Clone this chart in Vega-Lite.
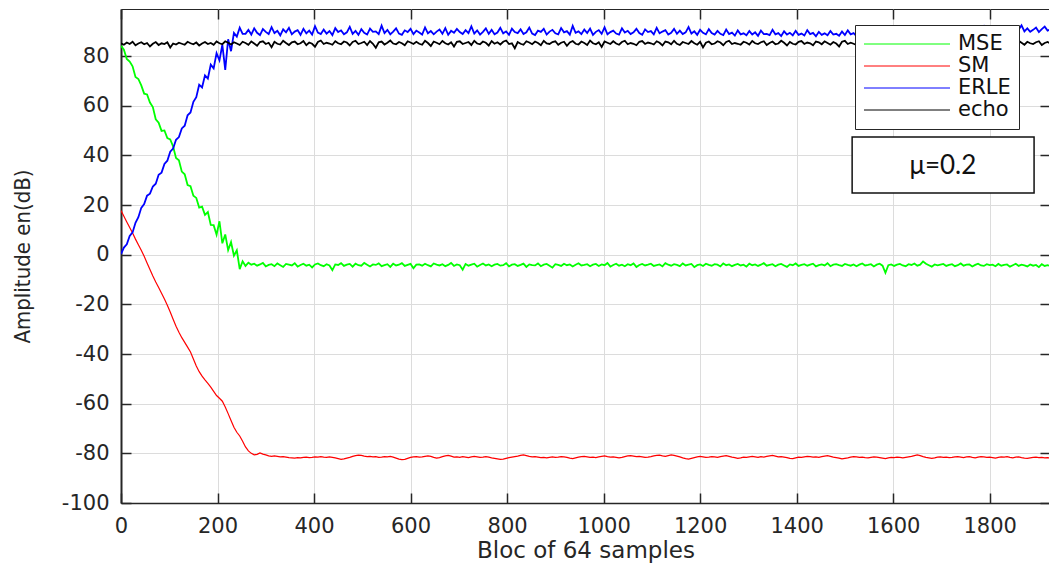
{
"$schema": "https://vega.github.io/schema/vega-lite/v6.json",
"width": 929, "height": 494,
"autosize": {"type": "none"},
"padding": {"left": 121, "top": 9, "right": 0, "bottom": 61},
"background": "white",
"config": {"view": {"stroke": "#262626", "strokeWidth": 1}, "font": "DejaVu Sans"},
"datasets": {"d": [
{"x":0,"MSE":84.2,"SM":17.8,"ERLE":0.3,"echo":85.2},
{"x":6,"MSE":82.6,"SM":15.5,"ERLE":2.9,"echo":84.6},
{"x":12,"MSE":78.9,"SM":13.2,"ERLE":4.2,"echo":85.5},
{"x":18,"MSE":77.8,"SM":11.0,"ERLE":7.6,"echo":84.9},
{"x":24,"MSE":75.9,"SM":8.8,"ERLE":9.0,"echo":85.8},
{"x":30,"MSE":71.6,"SM":6.3,"ERLE":12.9,"echo":84.4},
{"x":36,"MSE":70.8,"SM":4.0,"ERLE":15.1,"echo":85.1},
{"x":42,"MSE":68.2,"SM":1.8,"ERLE":18.9,"echo":85.6},
{"x":48,"MSE":64.9,"SM":-0.6,"ERLE":20.4,"echo":84.8},
{"x":54,"MSE":64.6,"SM":-3.3,"ERLE":23.8,"echo":85.3},
{"x":60,"MSE":61.3,"SM":-5.9,"ERLE":24.6,"echo":83.9},
{"x":66,"MSE":59.5,"SM":-8.6,"ERLE":27.5,"echo":85.0},
{"x":72,"MSE":54.6,"SM":-11.0,"ERLE":28.6,"echo":85.7},
{"x":78,"MSE":53.2,"SM":-13.2,"ERLE":32.2,"echo":84.5},
{"x":84,"MSE":49.9,"SM":-15.5,"ERLE":33.1,"echo":85.2},
{"x":90,"MSE":50.1,"SM":-17.8,"ERLE":36.6,"echo":84.9},
{"x":96,"MSE":47.0,"SM":-20.3,"ERLE":37.9,"echo":85.6},
{"x":102,"MSE":46.5,"SM":-23.1,"ERLE":41.5,"echo":83.5},
{"x":108,"MSE":43.6,"SM":-26.0,"ERLE":42.8,"echo":85.1},
{"x":114,"MSE":39.0,"SM":-28.8,"ERLE":46.3,"echo":84.7},
{"x":120,"MSE":38.1,"SM":-31.2,"ERLE":47.4,"echo":85.4},
{"x":126,"MSE":33.5,"SM":-33.4,"ERLE":50.9,"echo":85.0},
{"x":132,"MSE":32.4,"SM":-35.3,"ERLE":52.0,"echo":84.6},
{"x":138,"MSE":28.1,"SM":-37.2,"ERLE":56.2,"echo":85.8},
{"x":144,"MSE":27.6,"SM":-39.2,"ERLE":57.3,"echo":85.2},
{"x":150,"MSE":23.8,"SM":-42.0,"ERLE":61.6,"echo":84.8},
{"x":156,"MSE":22.9,"SM":-44.8,"ERLE":63.5,"echo":85.5},
{"x":162,"MSE":19.0,"SM":-47.1,"ERLE":68.5,"echo":84.3},
{"x":168,"MSE":19.4,"SM":-48.9,"ERLE":67.4,"echo":85.1},
{"x":174,"MSE":16.1,"SM":-50.4,"ERLE":72.3,"echo":85.7},
{"x":180,"MSE":17.2,"SM":-51.8,"ERLE":71.0,"echo":84.9},
{"x":186,"MSE":12.0,"SM":-53.3,"ERLE":76.6,"echo":85.3},
{"x":192,"MSE":11.9,"SM":-55.0,"ERLE":75.1,"echo":84.6},
{"x":198,"MSE":8.1,"SM":-56.7,"ERLE":81.2,"echo":85.9},
{"x":204,"MSE":13.5,"SM":-57.8,"ERLE":78.3,"echo":85.2},
{"x":210,"MSE":4.6,"SM":-59.0,"ERLE":84.6,"echo":84.8},
{"x":216,"MSE":8.2,"SM":-61.3,"ERLE":74.5,"echo":86.0},
{"x":222,"MSE":1.9,"SM":-64.0,"ERLE":86.8,"echo":85.4},
{"x":228,"MSE":5.1,"SM":-66.8,"ERLE":82.0,"echo":84.7},
{"x":234,"MSE":-0.4,"SM":-69.5,"ERLE":89.4,"echo":85.6},
{"x":240,"MSE":1.8,"SM":-71.5,"ERLE":87.9,"echo":85.1},
{"x":246,"MSE":-5.8,"SM":-73.0,"ERLE":91.5,"echo":84.5},
{"x":252,"MSE":-2.6,"SM":-75.1,"ERLE":89.0,"echo":85.8},
{"x":258,"MSE":-4.5,"SM":-77.4,"ERLE":89.0,"echo":85.3},
{"x":264,"MSE":-3.2,"SM":-79.0,"ERLE":90.6,"echo":84.6},
{"x":270,"MSE":-4.0,"SM":-80.0,"ERLE":88.7,"echo":85.9},
{"x":276,"MSE":-3.6,"SM":-80.6,"ERLE":91.2,"echo":85.1},
{"x":282,"MSE":-4.4,"SM":-80.4,"ERLE":89.4,"echo":84.2},
{"x":288,"MSE":-3.9,"SM":-79.8,"ERLE":88.5,"echo":85.7},
{"x":294,"MSE":-3.3,"SM":-80.3,"ERLE":90.9,"echo":86.0},
{"x":300,"MSE":-4.7,"SM":-80.6,"ERLE":89.8,"echo":84.9},
{"x":306,"MSE":-4.1,"SM":-81.0,"ERLE":88.9,"echo":85.4},
{"x":312,"MSE":-3.8,"SM":-81.2,"ERLE":91.7,"echo":83.6},
{"x":318,"MSE":-4.6,"SM":-81.0,"ERLE":89.3,"echo":85.8},
{"x":324,"MSE":-3.5,"SM":-81.2,"ERLE":90.2,"echo":85.0},
{"x":330,"MSE":-4.2,"SM":-81.4,"ERLE":88.4,"echo":84.7},
{"x":336,"MSE":-4.9,"SM":-81.3,"ERLE":90.8,"echo":86.2},
{"x":342,"MSE":-3.7,"SM":-81.5,"ERLE":89.6,"echo":85.3},
{"x":348,"MSE":-4.0,"SM":-81.7,"ERLE":91.4,"echo":84.5},
{"x":354,"MSE":-4.3,"SM":-81.8,"ERLE":88.8,"echo":85.6},
{"x":360,"MSE":-3.4,"SM":-81.9,"ERLE":89.9,"echo":85.9},
{"x":366,"MSE":-4.8,"SM":-81.7,"ERLE":90.5,"echo":84.8},
{"x":372,"MSE":-4.1,"SM":-81.8,"ERLE":88.6,"echo":85.2},
{"x":378,"MSE":-3.6,"SM":-81.6,"ERLE":91.0,"echo":86.1},
{"x":384,"MSE":-4.4,"SM":-81.5,"ERLE":89.2,"echo":84.4},
{"x":390,"MSE":-4.0,"SM":-81.7,"ERLE":90.3,"echo":85.5},
{"x":396,"MSE":-5.1,"SM":-81.6,"ERLE":88.7,"echo":85.0},
{"x":402,"MSE":-3.9,"SM":-81.4,"ERLE":92.1,"echo":83.8},
{"x":408,"MSE":-3.5,"SM":-81.5,"ERLE":89.5,"echo":85.7},
{"x":414,"MSE":-4.2,"SM":-81.3,"ERLE":88.9,"echo":86.3},
{"x":420,"MSE":-4.6,"SM":-81.5,"ERLE":90.7,"echo":84.9},
{"x":426,"MSE":-3.8,"SM":-81.6,"ERLE":89.1,"echo":85.4},
{"x":432,"MSE":-4.3,"SM":-81.4,"ERLE":90.1,"echo":85.1},
{"x":438,"MSE":-6.2,"SM":-81.6,"ERLE":88.5,"echo":84.6},
{"x":444,"MSE":-3.9,"SM":-81.8,"ERLE":91.3,"echo":86.0},
{"x":450,"MSE":-4.1,"SM":-82.1,"ERLE":89.7,"echo":85.2},
{"x":456,"MSE":-3.4,"SM":-82.4,"ERLE":90.4,"echo":84.8},
{"x":462,"MSE":-4.5,"SM":-82.2,"ERLE":88.8,"echo":85.9},
{"x":468,"MSE":-4.0,"SM":-81.9,"ERLE":89.6,"echo":85.5},
{"x":474,"MSE":-3.7,"SM":-81.6,"ERLE":91.8,"echo":84.3},
{"x":480,"MSE":-4.8,"SM":-81.2,"ERLE":89.0,"echo":85.7},
{"x":486,"MSE":-3.6,"SM":-80.9,"ERLE":90.2,"echo":86.2},
{"x":492,"MSE":-4.2,"SM":-80.7,"ERLE":88.6,"echo":84.9},
{"x":498,"MSE":-4.4,"SM":-80.8,"ERLE":90.9,"echo":85.3},
{"x":504,"MSE":-3.3,"SM":-81.1,"ERLE":89.4,"echo":85.8},
{"x":510,"MSE":-4.0,"SM":-81.3,"ERLE":88.7,"echo":84.5},
{"x":516,"MSE":-4.7,"SM":-81.2,"ERLE":91.1,"echo":86.1},
{"x":522,"MSE":-3.9,"SM":-81.4,"ERLE":89.8,"echo":85.0},
{"x":528,"MSE":-4.1,"SM":-81.3,"ERLE":90.0,"echo":83.4},
{"x":534,"MSE":-3.5,"SM":-81.6,"ERLE":88.9,"echo":85.6},
{"x":540,"MSE":-4.6,"SM":-81.5,"ERLE":92.3,"echo":85.9},
{"x":546,"MSE":-4.2,"SM":-81.3,"ERLE":89.3,"echo":84.7},
{"x":552,"MSE":-3.8,"SM":-81.4,"ERLE":90.6,"echo":85.4},
{"x":558,"MSE":-4.9,"SM":-81.2,"ERLE":88.8,"echo":86.3},
{"x":564,"MSE":-3.6,"SM":-81.5,"ERLE":89.9,"echo":85.1},
{"x":570,"MSE":-4.3,"SM":-81.9,"ERLE":91.2,"echo":84.8},
{"x":576,"MSE":-4.0,"SM":-82.3,"ERLE":89.1,"echo":85.7},
{"x":582,"MSE":-3.4,"SM":-82.5,"ERLE":88.6,"echo":85.2},
{"x":588,"MSE":-4.5,"SM":-82.4,"ERLE":90.4,"echo":84.4},
{"x":594,"MSE":-4.1,"SM":-82.0,"ERLE":89.7,"echo":86.0},
{"x":600,"MSE":-3.7,"SM":-81.6,"ERLE":91.0,"echo":85.5},
{"x":606,"MSE":-5.4,"SM":-81.4,"ERLE":88.9,"echo":84.9},
{"x":612,"MSE":-4.0,"SM":-81.3,"ERLE":90.3,"echo":85.8},
{"x":618,"MSE":-3.9,"SM":-81.5,"ERLE":89.5,"echo":85.0},
{"x":624,"MSE":-4.4,"SM":-81.4,"ERLE":88.7,"echo":84.6},
{"x":630,"MSE":-3.6,"SM":-81.2,"ERLE":91.6,"echo":86.2},
{"x":636,"MSE":-4.2,"SM":-81.0,"ERLE":89.2,"echo":85.3},
{"x":642,"MSE":-4.7,"SM":-81.2,"ERLE":90.1,"echo":84.1},
{"x":648,"MSE":-3.5,"SM":-81.6,"ERLE":88.8,"echo":85.9},
{"x":654,"MSE":-4.0,"SM":-81.9,"ERLE":89.9,"echo":85.4},
{"x":660,"MSE":-4.3,"SM":-81.7,"ERLE":90.7,"echo":84.8},
{"x":666,"MSE":-3.8,"SM":-81.3,"ERLE":89.0,"echo":86.1},
{"x":672,"MSE":-4.6,"SM":-81.0,"ERLE":91.3,"echo":85.2},
{"x":678,"MSE":-4.1,"SM":-80.8,"ERLE":88.6,"echo":84.7},
{"x":684,"MSE":-3.3,"SM":-81.1,"ERLE":90.2,"echo":85.6},
{"x":690,"MSE":-4.5,"SM":-81.5,"ERLE":89.4,"echo":83.9},
{"x":696,"MSE":-3.9,"SM":-81.4,"ERLE":91.0,"echo":85.8},
{"x":702,"MSE":-4.2,"SM":-81.6,"ERLE":89.7,"echo":86.0},
{"x":708,"MSE":-6.0,"SM":-81.3,"ERLE":88.9,"echo":84.9},
{"x":714,"MSE":-3.7,"SM":-81.5,"ERLE":90.5,"echo":85.3},
{"x":720,"MSE":-4.4,"SM":-81.7,"ERLE":89.3,"echo":85.7},
{"x":726,"MSE":-4.0,"SM":-81.4,"ERLE":92.0,"echo":84.5},
{"x":732,"MSE":-3.6,"SM":-81.2,"ERLE":89.1,"echo":86.2},
{"x":738,"MSE":-4.8,"SM":-81.4,"ERLE":90.4,"echo":85.1},
{"x":744,"MSE":-4.1,"SM":-81.6,"ERLE":88.7,"echo":84.8},
{"x":750,"MSE":-3.5,"SM":-81.5,"ERLE":89.8,"echo":85.9},
{"x":756,"MSE":-4.3,"SM":-81.3,"ERLE":91.2,"echo":85.4},
{"x":762,"MSE":-3.9,"SM":-81.5,"ERLE":89.0,"echo":84.3},
{"x":768,"MSE":-4.6,"SM":-81.8,"ERLE":90.6,"echo":86.1},
{"x":774,"MSE":-4.0,"SM":-82.0,"ERLE":88.8,"echo":85.0},
{"x":780,"MSE":-3.7,"SM":-82.2,"ERLE":89.5,"echo":85.6},
{"x":786,"MSE":-4.4,"SM":-82.4,"ERLE":91.4,"echo":84.7},
{"x":792,"MSE":-4.2,"SM":-82.3,"ERLE":89.2,"echo":85.8},
{"x":798,"MSE":-3.4,"SM":-82.0,"ERLE":90.0,"echo":86.3},
{"x":804,"MSE":-4.7,"SM":-81.7,"ERLE":88.6,"echo":84.9},
{"x":810,"MSE":-4.0,"SM":-81.5,"ERLE":91.1,"echo":85.2},
{"x":816,"MSE":-3.8,"SM":-81.3,"ERLE":89.7,"echo":83.2},
{"x":822,"MSE":-4.5,"SM":-81.1,"ERLE":89.3,"echo":85.7},
{"x":828,"MSE":-4.1,"SM":-80.8,"ERLE":90.8,"echo":85.0},
{"x":834,"MSE":-3.6,"SM":-80.6,"ERLE":88.9,"echo":84.6},
{"x":840,"MSE":-4.9,"SM":-80.9,"ERLE":89.6,"echo":86.0},
{"x":846,"MSE":-3.9,"SM":-81.2,"ERLE":91.5,"echo":85.5},
{"x":852,"MSE":-4.2,"SM":-81.4,"ERLE":89.1,"echo":84.8},
{"x":858,"MSE":-4.3,"SM":-81.3,"ERLE":88.5,"echo":85.9},
{"x":864,"MSE":-3.5,"SM":-81.5,"ERLE":90.3,"echo":85.3},
{"x":870,"MSE":-4.6,"SM":-81.7,"ERLE":89.8,"echo":84.4},
{"x":876,"MSE":-4.0,"SM":-81.6,"ERLE":91.0,"echo":86.2},
{"x":882,"MSE":-3.7,"SM":-81.8,"ERLE":88.7,"echo":85.1},
{"x":888,"MSE":-4.4,"SM":-81.6,"ERLE":89.9,"echo":84.9},
{"x":894,"MSE":-5.2,"SM":-81.4,"ERLE":90.6,"echo":85.7},
{"x":900,"MSE":-3.8,"SM":-81.6,"ERLE":89.2,"echo":86.0},
{"x":906,"MSE":-4.1,"SM":-81.5,"ERLE":88.8,"echo":84.6},
{"x":912,"MSE":-4.5,"SM":-81.3,"ERLE":91.3,"echo":85.4},
{"x":918,"MSE":-3.6,"SM":-81.4,"ERLE":89.6,"echo":85.8},
{"x":924,"MSE":-4.2,"SM":-81.6,"ERLE":90.1,"echo":84.2},
{"x":930,"MSE":-3.9,"SM":-81.9,"ERLE":88.7,"echo":85.5},
{"x":936,"MSE":-4.7,"SM":-82.1,"ERLE":92.2,"echo":86.1},
{"x":942,"MSE":-4.0,"SM":-81.8,"ERLE":89.4,"echo":85.0},
{"x":948,"MSE":-3.4,"SM":-81.5,"ERLE":90.0,"echo":84.7},
{"x":954,"MSE":-4.3,"SM":-81.3,"ERLE":88.9,"echo":85.9},
{"x":960,"MSE":-4.1,"SM":-81.2,"ERLE":90.7,"echo":85.3},
{"x":966,"MSE":-3.8,"SM":-81.4,"ERLE":89.3,"echo":84.5},
{"x":972,"MSE":-4.6,"SM":-81.6,"ERLE":91.1,"echo":86.3},
{"x":978,"MSE":-4.0,"SM":-81.5,"ERLE":88.6,"echo":85.2},
{"x":984,"MSE":-3.7,"SM":-81.7,"ERLE":89.8,"echo":84.8},
{"x":990,"MSE":-4.5,"SM":-81.4,"ERLE":90.5,"echo":85.6},
{"x":996,"MSE":-3.9,"SM":-81.2,"ERLE":89.0,"echo":83.7},
{"x":1002,"MSE":-4.2,"SM":-81.0,"ERLE":91.6,"echo":85.9},
{"x":1008,"MSE":-3.3,"SM":-81.3,"ERLE":88.8,"echo":85.4},
{"x":1014,"MSE":-4.8,"SM":-81.5,"ERLE":89.7,"echo":84.9},
{"x":1020,"MSE":-4.1,"SM":-81.4,"ERLE":90.3,"echo":86.0},
{"x":1026,"MSE":-3.6,"SM":-81.6,"ERLE":89.1,"echo":85.1},
{"x":1032,"MSE":-4.4,"SM":-81.8,"ERLE":88.7,"echo":84.6},
{"x":1038,"MSE":-4.0,"SM":-81.6,"ERLE":91.2,"echo":85.7},
{"x":1044,"MSE":-4.6,"SM":-81.3,"ERLE":89.5,"echo":86.2},
{"x":1050,"MSE":-3.8,"SM":-81.0,"ERLE":90.2,"echo":84.8},
{"x":1056,"MSE":-4.2,"SM":-80.9,"ERLE":88.9,"echo":85.3},
{"x":1062,"MSE":-3.5,"SM":-81.1,"ERLE":89.6,"echo":85.0},
{"x":1068,"MSE":-4.9,"SM":-81.3,"ERLE":91.0,"echo":84.4},
{"x":1074,"MSE":-4.1,"SM":-81.2,"ERLE":89.3,"echo":85.8},
{"x":1080,"MSE":-3.7,"SM":-81.4,"ERLE":88.6,"echo":86.1},
{"x":1086,"MSE":-4.3,"SM":-81.6,"ERLE":90.8,"echo":84.9},
{"x":1092,"MSE":-4.0,"SM":-81.5,"ERLE":89.7,"echo":85.5},
{"x":1098,"MSE":-3.6,"SM":-81.3,"ERLE":90.1,"echo":85.2},
{"x":1104,"MSE":-4.5,"SM":-81.0,"ERLE":88.8,"echo":84.7},
{"x":1110,"MSE":-4.2,"SM":-80.8,"ERLE":91.4,"echo":86.0},
{"x":1116,"MSE":-3.9,"SM":-80.7,"ERLE":89.2,"echo":85.4},
{"x":1122,"MSE":-4.7,"SM":-81.0,"ERLE":89.9,"echo":84.3},
{"x":1128,"MSE":-3.4,"SM":-81.2,"ERLE":90.5,"echo":85.9},
{"x":1134,"MSE":-4.0,"SM":-80.9,"ERLE":88.7,"echo":85.6},
{"x":1140,"MSE":-4.4,"SM":-80.6,"ERLE":89.4,"echo":84.8},
{"x":1146,"MSE":-3.8,"SM":-80.8,"ERLE":91.0,"echo":86.2},
{"x":1152,"MSE":-4.1,"SM":-81.1,"ERLE":89.0,"echo":85.0},
{"x":1158,"MSE":-4.6,"SM":-81.4,"ERLE":90.3,"echo":84.5},
{"x":1164,"MSE":-3.5,"SM":-81.8,"ERLE":88.9,"echo":85.7},
{"x":1170,"MSE":-4.3,"SM":-82.1,"ERLE":89.6,"echo":85.3},
{"x":1176,"MSE":-4.0,"SM":-82.3,"ERLE":91.7,"echo":84.9},
{"x":1182,"MSE":-3.7,"SM":-82.0,"ERLE":89.1,"echo":86.1},
{"x":1188,"MSE":-5.0,"SM":-81.7,"ERLE":90.0,"echo":85.2},
{"x":1194,"MSE":-4.2,"SM":-81.4,"ERLE":88.6,"echo":84.6},
{"x":1200,"MSE":-3.9,"SM":-81.2,"ERLE":90.6,"echo":85.8},
{"x":1206,"MSE":-4.5,"SM":-81.4,"ERLE":89.4,"echo":83.5},
{"x":1212,"MSE":-3.6,"SM":-81.6,"ERLE":88.8,"echo":85.4},
{"x":1218,"MSE":-4.1,"SM":-81.5,"ERLE":90.9,"echo":85.9},
{"x":1224,"MSE":-4.4,"SM":-81.3,"ERLE":89.3,"echo":84.8},
{"x":1230,"MSE":-3.8,"SM":-81.4,"ERLE":88.7,"echo":85.1},
{"x":1236,"MSE":-4.0,"SM":-81.6,"ERLE":90.2,"echo":86.0},
{"x":1242,"MSE":-4.7,"SM":-81.3,"ERLE":89.0,"echo":85.5},
{"x":1248,"MSE":-3.5,"SM":-81.1,"ERLE":88.5,"echo":84.4},
{"x":1254,"MSE":-4.2,"SM":-80.9,"ERLE":90.7,"echo":85.7},
{"x":1260,"MSE":-3.9,"SM":-81.2,"ERLE":88.9,"echo":86.2},
{"x":1266,"MSE":-4.6,"SM":-81.5,"ERLE":89.5,"echo":84.9},
{"x":1272,"MSE":-4.1,"SM":-81.7,"ERLE":88.3,"echo":85.3},
{"x":1278,"MSE":-3.7,"SM":-82.0,"ERLE":90.4,"echo":85.0},
{"x":1284,"MSE":-4.3,"SM":-81.8,"ERLE":88.8,"echo":84.6},
{"x":1290,"MSE":-4.0,"SM":-81.5,"ERLE":89.2,"echo":85.8},
{"x":1296,"MSE":-4.8,"SM":-81.6,"ERLE":88.4,"echo":85.4},
{"x":1302,"MSE":-3.6,"SM":-81.4,"ERLE":90.1,"echo":84.7},
{"x":1308,"MSE":-4.2,"SM":-81.2,"ERLE":88.7,"echo":86.1},
{"x":1314,"MSE":-3.9,"SM":-81.4,"ERLE":89.6,"echo":85.2},
{"x":1320,"MSE":-4.5,"SM":-81.6,"ERLE":88.2,"echo":84.9},
{"x":1326,"MSE":-4.0,"SM":-81.3,"ERLE":90.3,"echo":85.6},
{"x":1332,"MSE":-3.4,"SM":-81.5,"ERLE":88.9,"echo":86.0},
{"x":1338,"MSE":-4.4,"SM":-81.2,"ERLE":89.0,"echo":84.5},
{"x":1344,"MSE":-4.1,"SM":-81.0,"ERLE":88.5,"echo":85.3},
{"x":1350,"MSE":-3.8,"SM":-80.8,"ERLE":90.6,"echo":85.9},
{"x":1356,"MSE":-4.6,"SM":-81.1,"ERLE":88.8,"echo":84.8},
{"x":1362,"MSE":-4.0,"SM":-81.4,"ERLE":89.3,"echo":85.1},
{"x":1368,"MSE":-3.7,"SM":-81.3,"ERLE":88.1,"echo":86.2},
{"x":1374,"MSE":-4.3,"SM":-81.5,"ERLE":90.0,"echo":85.4},
{"x":1380,"MSE":-4.9,"SM":-81.7,"ERLE":88.7,"echo":84.3},
{"x":1386,"MSE":-3.9,"SM":-82.0,"ERLE":89.4,"echo":85.7},
{"x":1392,"MSE":-4.2,"SM":-82.1,"ERLE":88.4,"echo":85.0},
{"x":1398,"MSE":-3.5,"SM":-81.8,"ERLE":90.2,"echo":84.7},
{"x":1404,"MSE":-4.5,"SM":-81.5,"ERLE":88.6,"echo":85.8},
{"x":1410,"MSE":-4.1,"SM":-81.6,"ERLE":89.1,"echo":86.1},
{"x":1416,"MSE":-3.8,"SM":-81.4,"ERLE":88.3,"echo":84.9},
{"x":1422,"MSE":-4.4,"SM":-81.2,"ERLE":90.5,"echo":85.5},
{"x":1428,"MSE":-4.0,"SM":-81.3,"ERLE":88.9,"echo":85.2},
{"x":1434,"MSE":-3.6,"SM":-81.5,"ERLE":89.4,"echo":84.4},
{"x":1440,"MSE":-4.7,"SM":-81.4,"ERLE":88.0,"echo":85.9},
{"x":1446,"MSE":-4.2,"SM":-81.6,"ERLE":89.8,"echo":85.6},
{"x":1452,"MSE":-3.9,"SM":-81.3,"ERLE":88.6,"echo":84.8},
{"x":1458,"MSE":-4.3,"SM":-81.1,"ERLE":89.2,"echo":86.0},
{"x":1464,"MSE":-3.4,"SM":-80.9,"ERLE":88.4,"echo":85.3},
{"x":1470,"MSE":-4.6,"SM":-81.2,"ERLE":90.1,"echo":84.6},
{"x":1476,"MSE":-4.0,"SM":-81.5,"ERLE":88.7,"echo":85.7},
{"x":1482,"MSE":-3.8,"SM":-81.7,"ERLE":89.0,"echo":85.1},
{"x":1488,"MSE":-4.2,"SM":-81.9,"ERLE":88.2,"echo":83.9},
{"x":1494,"MSE":-4.5,"SM":-82.2,"ERLE":89.9,"echo":85.8},
{"x":1500,"MSE":-3.7,"SM":-82.0,"ERLE":88.5,"echo":86.2},
{"x":1506,"MSE":-4.1,"SM":-81.8,"ERLE":90.4,"echo":84.9},
{"x":1512,"MSE":-4.4,"SM":-81.5,"ERLE":88.8,"echo":85.4},
{"x":1518,"MSE":-3.9,"SM":-81.3,"ERLE":89.3,"echo":85.0},
{"x":1524,"MSE":-4.6,"SM":-81.4,"ERLE":88.1,"echo":84.5},
{"x":1530,"MSE":-4.0,"SM":-81.6,"ERLE":89.7,"echo":85.9},
{"x":1536,"MSE":-3.5,"SM":-81.5,"ERLE":88.6,"echo":85.5},
{"x":1542,"MSE":-4.3,"SM":-81.7,"ERLE":90.0,"echo":84.8},
{"x":1548,"MSE":-4.1,"SM":-81.8,"ERLE":88.4,"echo":86.1},
{"x":1554,"MSE":-3.8,"SM":-81.6,"ERLE":89.5,"echo":85.2},
{"x":1560,"MSE":-4.7,"SM":-81.4,"ERLE":88.9,"echo":84.7},
{"x":1566,"MSE":-4.0,"SM":-81.5,"ERLE":88.2,"echo":85.6},
{"x":1572,"MSE":-3.6,"SM":-81.7,"ERLE":90.3,"echo":85.9},
{"x":1578,"MSE":-4.4,"SM":-81.9,"ERLE":88.7,"echo":84.4},
{"x":1584,"MSE":-7.3,"SM":-82.1,"ERLE":89.6,"echo":85.3},
{"x":1590,"MSE":-4.2,"SM":-81.8,"ERLE":88.3,"echo":86.0},
{"x":1596,"MSE":-3.9,"SM":-81.6,"ERLE":90.1,"echo":85.1},
{"x":1602,"MSE":-4.5,"SM":-81.7,"ERLE":88.8,"echo":84.8},
{"x":1608,"MSE":-4.0,"SM":-81.5,"ERLE":89.2,"echo":85.7},
{"x":1614,"MSE":-3.7,"SM":-81.6,"ERLE":88.5,"echo":86.3},
{"x":1620,"MSE":-4.3,"SM":-81.8,"ERLE":90.6,"echo":84.9},
{"x":1626,"MSE":-4.6,"SM":-81.6,"ERLE":88.9,"echo":85.4},
{"x":1632,"MSE":-3.8,"SM":-81.4,"ERLE":89.4,"echo":85.0},
{"x":1638,"MSE":-4.1,"SM":-81.2,"ERLE":88.6,"echo":84.6},
{"x":1644,"MSE":-3.5,"SM":-80.9,"ERLE":90.2,"echo":85.8},
{"x":1650,"MSE":-4.4,"SM":-80.6,"ERLE":89.0,"echo":85.2},
{"x":1656,"MSE":-4.0,"SM":-80.9,"ERLE":88.7,"echo":84.3},
{"x":1662,"MSE":-2.7,"SM":-81.3,"ERLE":90.5,"echo":85.9},
{"x":1668,"MSE":-3.6,"SM":-81.6,"ERLE":89.3,"echo":86.1},
{"x":1674,"MSE":-4.2,"SM":-81.8,"ERLE":88.8,"echo":84.8},
{"x":1680,"MSE":-4.8,"SM":-82.0,"ERLE":91.0,"echo":85.5},
{"x":1686,"MSE":-3.9,"SM":-81.8,"ERLE":89.5,"echo":85.0},
{"x":1692,"MSE":-4.3,"SM":-81.5,"ERLE":88.9,"echo":84.7},
{"x":1698,"MSE":-4.0,"SM":-81.4,"ERLE":90.7,"echo":85.7},
{"x":1704,"MSE":-3.7,"SM":-81.6,"ERLE":89.2,"echo":86.2},
{"x":1710,"MSE":-4.5,"SM":-81.5,"ERLE":90.1,"echo":84.9},
{"x":1716,"MSE":-4.1,"SM":-81.7,"ERLE":88.8,"echo":85.3},
{"x":1722,"MSE":-3.8,"SM":-81.6,"ERLE":91.2,"echo":84.5},
{"x":1728,"MSE":-4.6,"SM":-81.4,"ERLE":89.6,"echo":85.8},
{"x":1734,"MSE":-4.2,"SM":-81.3,"ERLE":90.3,"echo":85.1},
{"x":1740,"MSE":-3.5,"SM":-81.5,"ERLE":89.0,"echo":83.8},
{"x":1746,"MSE":-4.4,"SM":-81.7,"ERLE":91.5,"echo":85.6},
{"x":1752,"MSE":-4.0,"SM":-81.4,"ERLE":89.8,"echo":86.0},
{"x":1758,"MSE":-3.9,"SM":-81.3,"ERLE":90.4,"echo":84.8},
{"x":1764,"MSE":-4.7,"SM":-81.6,"ERLE":89.1,"echo":85.4},
{"x":1770,"MSE":-4.1,"SM":-81.8,"ERLE":91.0,"echo":85.9},
{"x":1776,"MSE":-3.6,"SM":-81.5,"ERLE":89.7,"echo":84.6},
{"x":1782,"MSE":-4.3,"SM":-81.3,"ERLE":90.6,"echo":85.2},
{"x":1788,"MSE":-4.5,"SM":-81.4,"ERLE":92.1,"echo":86.1},
{"x":1794,"MSE":-3.8,"SM":-81.6,"ERLE":89.4,"echo":84.9},
{"x":1800,"MSE":-4.2,"SM":-81.5,"ERLE":90.8,"echo":85.5},
{"x":1806,"MSE":-4.0,"SM":-81.7,"ERLE":89.9,"echo":85.0},
{"x":1812,"MSE":-4.6,"SM":-81.9,"ERLE":91.3,"echo":84.4},
{"x":1818,"MSE":-3.7,"SM":-81.6,"ERLE":89.6,"echo":85.7},
{"x":1824,"MSE":-4.4,"SM":-81.4,"ERLE":90.5,"echo":86.0},
{"x":1830,"MSE":-4.1,"SM":-81.5,"ERLE":91.8,"echo":84.8},
{"x":1836,"MSE":-3.9,"SM":-81.3,"ERLE":89.9,"echo":85.3},
{"x":1842,"MSE":-4.8,"SM":-81.6,"ERLE":90.2,"echo":85.9},
{"x":1848,"MSE":-4.2,"SM":-81.8,"ERLE":91.1,"echo":84.7},
{"x":1854,"MSE":-3.6,"SM":-81.5,"ERLE":89.5,"echo":85.1},
{"x":1860,"MSE":-4.5,"SM":-81.4,"ERLE":90.7,"echo":86.2},
{"x":1866,"MSE":-4.0,"SM":-81.7,"ERLE":92.4,"echo":85.4},
{"x":1872,"MSE":-4.3,"SM":-81.9,"ERLE":90.0,"echo":84.6},
{"x":1878,"MSE":-4.7,"SM":-82.0,"ERLE":91.2,"echo":85.8},
{"x":1884,"MSE":-3.9,"SM":-81.8,"ERLE":89.8,"echo":85.2},
{"x":1890,"MSE":-4.4,"SM":-81.6,"ERLE":90.6,"echo":84.9},
{"x":1896,"MSE":-4.1,"SM":-81.5,"ERLE":91.5,"echo":85.6},
{"x":1902,"MSE":-5.0,"SM":-81.7,"ERLE":89.7,"echo":86.0},
{"x":1908,"MSE":-3.8,"SM":-81.6,"ERLE":90.9,"echo":84.5},
{"x":1914,"MSE":-4.5,"SM":-81.8,"ERLE":91.9,"echo":85.3},
{"x":1920,"MSE":-4.2,"SM":-81.7,"ERLE":90.3,"echo":85.7},
{"x":1926,"MSE":-4.6,"SM":-81.9,"ERLE":90.8,"echo":85.1}
]},
"layer": [
{
"data": {"name": "d"},
"transform": [{"fold": ["MSE", "SM", "ERLE", "echo"], "as": ["series", "value"]}, {"filter": "datum.series === 'SM'"}],
"mark": {"type": "line", "clip": true, "strokeWidth": 1.2},
"encoding": {
"x": {"field": "x", "type": "quantitative", "scale": {"domain": [0, 1925], "nice": false, "zero": false}, "axis": null},
"y": {"field": "value", "type": "quantitative", "scale": {"domain": [-100, 99], "nice": false, "zero": false}, "axis": null},
"color": {"field": "series", "type": "nominal", "scale": {"domain": ["MSE", "SM", "ERLE", "echo"], "range": ["#00ff00", "#ff0000", "#0000ff", "#000000"]}}
}
},
{
"data": {"name": "d"},
"transform": [{"fold": ["MSE", "SM", "ERLE", "echo"], "as": ["series", "value"]}, {"filter": "datum.series !== 'SM'"}],
"mark": {"type": "line", "clip": true, "strokeWidth": 1.8},
"encoding": {
"x": {"field": "x", "type": "quantitative",
 "scale": {"domain": [0, 1925], "nice": false, "zero": false},
 "axis": {"values": [0,200,400,600,800,1000,1200,1400,1600,1800], "title": "Bloc of 64 samples",
  "labelExpr": "'' + datum.value",
  "labelFont": "DejaVu Sans", "labelFontSize": 21, "labelColor": "#262626", "labelFlush": false, "labelOverlap": false,
  "labelPadding": 22, "tickSize": -10, "tickColor": "#262626", "tickWidth": 1.5,
  "domainColor": "#262626", "domainWidth": 1.5,
  "grid": true, "gridColor": "#dcdcdc", "gridWidth": 1,
  "titleFont": "DejaVu Sans", "titleFontSize": 23, "titleFontWeight": "normal", "titleColor": "#262626", "titlePadding": 3}},
"y": {"field": "value", "type": "quantitative",
 "scale": {"domain": [-100, 99], "nice": false, "zero": false},
 "axis": {"values": [-100,-80,-60,-40,-20,0,20,40,60,80], "title": "Amplitude en(dB)",
  "labelExpr": "'' + datum.value",
  "labelFont": "DejaVu Sans", "labelFontSize": 21, "labelColor": "#262626",
  "labelPadding": 22, "tickSize": -10, "tickColor": "#262626", "tickWidth": 1.5,
  "domainColor": "#262626", "domainWidth": 2,
  "grid": true, "gridColor": "#dcdcdc", "gridWidth": 1,
  "titleFont": "Liberation Sans Narrow, DejaVu Sans Condensed, Liberation Sans", "titleFontSize": 22, "titleFontWeight": "normal", "titleColor": "#262626", "titlePadding": 27}},
"color": {"field": "series", "type": "nominal",
 "scale": {"domain": ["MSE", "SM", "ERLE", "echo"], "range": ["#00ff00", "#ff0000", "#0000ff", "#000000"]},
 "legend": {"orient": "none", "legendX": 734, "legendY": 16, "title": null, "values": ["MSE", "SM", "ERLE", "echo"],
  "fillColor": "white", "strokeColor": "#262626", "padding": 8,
  "symbolType": "stroke", "symbolSize": 7400, "symbolStrokeWidth": 1, "symbolOffset": 0,
  "labelFont": "DejaVu Sans", "labelFontSize": 21, "labelColor": "#111111", "labelOffset": 7,
  "clipHeight": 22, "rowPadding": 0}}
}
},
{
"data": {"name": "d"},
"mark": {"type": "point", "opacity": 0},
"encoding": {
"x": {"field": "x", "type": "quantitative", "scale": {"domain": [0, 1925], "nice": false, "zero": false},
 "axis": {"orient": "top", "values": [0,200,400,600,800,1000,1200,1400,1600,1800], "labels": false, "title": null, "grid": false, "domain": false, "tickSize": -10, "tickColor": "#262626", "tickWidth": 1.5}},
"y": {"field": "ERLE", "type": "quantitative", "scale": {"domain": [-100, 99], "nice": false, "zero": false},
 "axis": {"orient": "right", "values": [-100,-80,-60,-40,-20,0,20,40,60,80], "labels": false, "title": null, "grid": false, "domain": false, "tickSize": -10, "tickColor": "#262626", "tickWidth": 1.5}}
}
},
{
"data": {"values": [{}]},
"mark": {"type": "rect", "fill": "white", "stroke": "#111111", "strokeWidth": 1.5},
"encoding": {
"x": {"datum": 1515, "type": "quantitative", "axis": null},
"x2": {"datum": 1892},
"y": {"datum": 47.4, "type": "quantitative", "axis": null},
"y2": {"datum": 24.9}
}
},
{
"data": {"values": [{"t": "μ=0.2"}]},
"mark": {"type": "text", "font": "Lato", "fontSize": 26, "color": "#111111", "align": "center", "baseline": "middle"},
"encoding": {
"x": {"datum": 1703, "type": "quantitative", "axis": null},
"y": {"datum": 35.8, "type": "quantitative", "axis": null},
"text": {"field": "t", "type": "nominal"}
}
}
],
"resolve": {"axis": {"x": "independent", "y": "independent"}}
}
